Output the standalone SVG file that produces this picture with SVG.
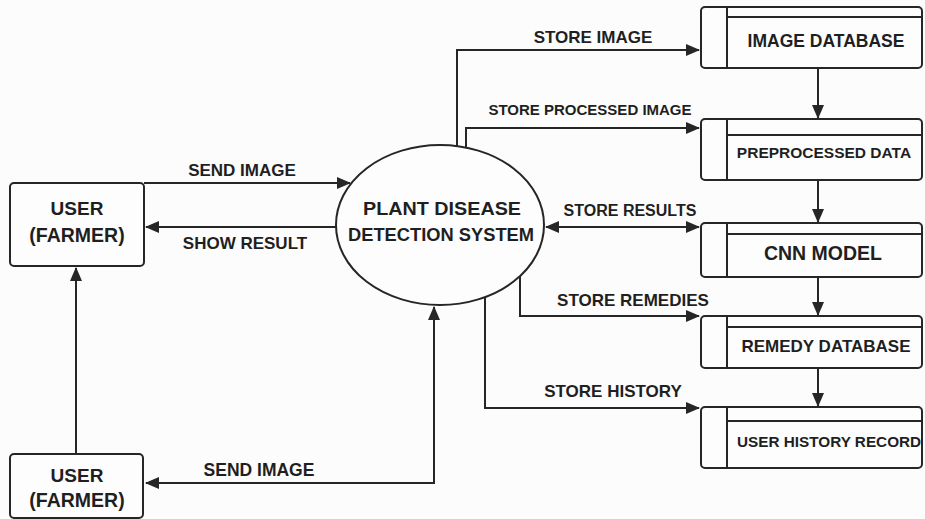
<svg xmlns="http://www.w3.org/2000/svg" width="925" height="519" viewBox="0 0 925 519">
<defs>
<marker id="ah" markerUnits="userSpaceOnUse" markerWidth="14" markerHeight="12" refX="13" refY="6" orient="auto-start-reverse" viewBox="0 0 14 12">
<path d="M0,0 L14,6 L0,12 z" fill="#262626"/>
</marker>
<style>
.ln{fill:none;stroke:#262626;stroke-width:2}
.box{fill:#fdfdfd;stroke:#262626;stroke-width:2}
.t{font-family:"Liberation Sans",Arial,sans-serif;font-weight:bold;fill:#1f1f1f}
.c{text-anchor:middle}
</style>
</defs>
<rect width="925" height="519" fill="#fcfcfc"/>

<g id="connectors">
<path class="ln" d="M144,183 H350" marker-end="url(#ah)"/>
<path class="ln" d="M336,227 H146" marker-end="url(#ah)"/>
<path class="ln" d="M76,454 V268" marker-end="url(#ah)"/>
<path class="ln" d="M434,307 V483 H146" marker-start="url(#ah)" marker-end="url(#ah)"/>
<path class="ln" d="M457,146 V50 H699" marker-end="url(#ah)"/>
<path class="ln" d="M466,148 V128 H699" marker-end="url(#ah)"/>
<path class="ln" d="M546,227 H699" marker-start="url(#ah)" marker-end="url(#ah)"/>
<path class="ln" d="M520,276 V316 H699" marker-end="url(#ah)"/>
<path class="ln" d="M485,297 V408 H699" marker-end="url(#ah)"/>
<path class="ln" d="M818,68 V118" marker-end="url(#ah)"/>
<path class="ln" d="M818,180 V222" marker-end="url(#ah)"/>
<path class="ln" d="M818,277 V315" marker-end="url(#ah)"/>
<path class="ln" d="M818,368 V406" marker-end="url(#ah)"/>
<text class="t c" x="242" y="176" font-size="17">SEND IMAGE</text>
<text class="t c" x="245" y="249" font-size="17">SHOW RESULT</text>
<text class="t c" x="259" y="476" font-size="17.5">SEND IMAGE</text>
<text class="t c" x="593" y="43" font-size="17">STORE IMAGE</text>
<text class="t c" x="590" y="115" font-size="15">STORE PROCESSED IMAGE</text>
<text class="t c" x="630" y="216" font-size="16">STORE RESULTS</text>
<text class="t c" x="633" y="306" font-size="17">STORE REMEDIES</text>
<text class="t c" x="613" y="397" font-size="17">STORE HISTORY</text>
</g>

<g id="user-top">
<rect class="box" x="10" y="183" width="134" height="83" rx="4"/>
<text class="t c" x="77" y="215" font-size="19">USER</text>
<text class="t c" x="77" y="242" font-size="19.5">(FARMER)</text>
</g>

<g id="user-bottom">
<rect class="box" x="10" y="454" width="133" height="64" rx="4"/>
<text class="t c" x="77" y="482" font-size="19">USER</text>
<text class="t c" x="77" y="507" font-size="19.5">(FARMER)</text>
</g>

<g id="system">
<ellipse class="box" cx="440" cy="225" rx="104" ry="80"/>
<text class="t c" x="442" y="215" font-size="18.5" textLength="158" lengthAdjust="spacingAndGlyphs">PLANT DISEASE</text>
<text class="t c" x="441" y="241" font-size="18" textLength="186" lengthAdjust="spacingAndGlyphs">DETECTION SYSTEM</text>
</g>

<g id="image-database">
<rect class="box" x="701" y="7" width="221" height="61" rx="4"/>
<path class="ln" d="M727,7 V68 M727,17 H922"/>
<text class="t c" x="826" y="47" font-size="17.5">IMAGE DATABASE</text>
</g>

<g id="preprocessed-data">
<rect class="box" x="701" y="119" width="221" height="61" rx="4"/>
<path class="ln" d="M727,119 V180 M727,135 H922"/>
<text class="t c" x="824" y="158" font-size="15.5">PREPROCESSED DATA</text>
</g>

<g id="cnn-model">
<rect class="box" x="701" y="223" width="221" height="54" rx="4"/>
<path class="ln" d="M727,223 V277 M727,234 H922"/>
<text class="t c" x="823" y="260" font-size="19.5">CNN MODEL</text>
</g>

<g id="remedy-database">
<rect class="box" x="701" y="316" width="221" height="52" rx="4"/>
<path class="ln" d="M727,316 V368 M727,327 H922"/>
<text class="t c" x="826" y="352" font-size="17">REMEDY DATABASE</text>
</g>

<g id="user-history-record">
<rect class="box" x="701" y="407" width="221" height="61" rx="4"/>
<path class="ln" d="M727,407 V468 M727,421 H922"/>
<text class="t" x="737" y="447" font-size="15.3">USER HISTORY RECORD</text>
</g>
</svg>
